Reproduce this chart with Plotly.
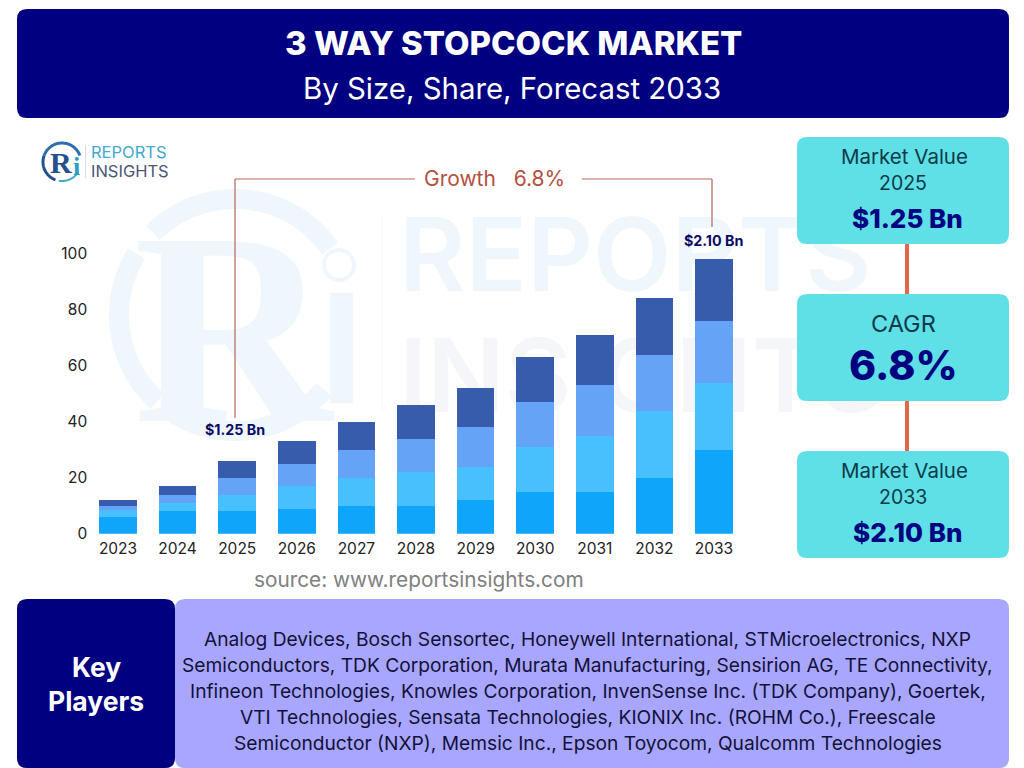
import math
import plotly.graph_objects as go

W, H = 1024, 768

years = ["2023", "2024", "2025", "2026", "2027", "2028", "2029", "2030", "2031", "2032", "2033"]
seg_1 = [6, 8, 8, 9, 10, 10, 12, 15, 15, 20, 30]
seg_2 = [2.5, 3, 6, 8, 10, 12, 12, 16, 20, 24, 24]
seg_3 = [1.5, 3, 6, 8, 10, 12, 14, 16, 18, 20, 22]
seg_4 = [2, 3, 6, 8, 10, 12, 14, 16, 18, 20, 22]
seg_colors = ["#0ea5fb", "#48c0fd", "#65a3f6", "#365cab"]

key_players = [
    "Analog Devices, Bosch Sensortec, Honeywell International, STMicroelectronics, NXP",
    "Semiconductors, TDK Corporation, Murata Manufacturing, Sensirion AG, TE Connectivity,",
    "Infineon Technologies, Knowles Corporation, InvenSense Inc. (TDK Company), Goertek,",
    "VTI Technologies, Sensata Technologies, KIONIX Inc. (ROHM Co.), Freescale",
    "Semiconductor (NXP), Memsic Inc., Epson Toyocom, Qualcomm Technologies",
]

FONT = "Inter"
NAVY = "#000080"
TEAL = "#5fe0e6"
LAVENDER = "#a9a6ff"
ORANGE = "#e0694a"
LINE = "#b8645a"
WM_BLUE = "#f0f7fc"
WM_GREY = "#f5f6f9"


def px(x):
    return x / W


def py(y):
    return 1 - y / H


def round_box(x0, y0, x1, y1, color, r=10):
    a, b, c, d = px(x0), py(y0), px(x1), py(y1)
    rx, ry = r / W, r / H
    path = (f"M {a + rx} {b} L {c - rx} {b} Q {c} {b} {c} {b - ry} L {c} {d + ry} Q {c} {d} {c - rx} {d} "
            f"L {a + rx} {d} Q {a} {d} {a} {d + ry} L {a} {b - ry} Q {a} {b} {a + rx} {b} Z")
    return dict(type="path", xref="paper", yref="paper", path=path, fillcolor=color, line_width=0, layer="below")


def arc(cx, cy, r, a0, a1, color, width):
    # angles in degrees, screen coordinates
    n = 40
    pts = []
    for i in range(n + 1):
        t = math.radians(a0 + (a1 - a0) * i / n)
        pts.append((px(cx + r * math.cos(t)), py(cy + r * math.sin(t))))
    path = "M " + " L ".join(f"{x} {y}" for x, y in pts)
    return dict(type="path", xref="paper", yref="paper", path=path, line=dict(color=color, width=width), layer="below")


def seg(x0, y0, x1, y1, color, width=1.2, layer="above"):
    return dict(type="line", xref="paper", yref="paper", x0=px(x0), y0=py(y0), x1=px(x1), y1=py(y1),
                line=dict(color=color, width=width), layer=layer)


def wm_label(x0, y0, x1, y1, text, color, size, family=FONT, weight="normal", pos="middle center"):
    # watermark text kept in the shape layer so the bars stay on top of it
    return dict(type="rect", xref="paper", yref="paper", x0=px(x0), y0=py(y0), x1=px(x1), y1=py(y1),
                line_width=0, fillcolor="rgba(0,0,0,0)", layer="below",
                label=dict(text=text, textposition=pos, padding=0,
                           font=dict(family=family, size=size, color=color, weight=weight)))


def text(x, y, s, size, color, weight="normal", family=FONT, anchor="center"):
    return dict(xref="paper", yref="paper", x=px(x), y=py(y), text=s, showarrow=False, xanchor=anchor,
                yanchor="middle", font=dict(family=family, size=size, color=color, weight=weight))


fig = go.Figure()
for values, color in zip([seg_1, seg_2, seg_3, seg_4], seg_colors):
    fig.add_trace(go.Bar(x=years, y=values, marker=dict(color=color, line_width=0), width=0.63, showlegend=False))

totals = [a + b + c + d for a, b, c, d in zip(seg_1, seg_2, seg_3, seg_4)]

shapes = [
    # watermark
    arc(235, 315, 116, 225, 325, WM_BLUE, 20),
    arc(235, 315, 116, 132, 212, WM_BLUE, 20),
    arc(235, 315, 116, 40, 122, WM_BLUE, 20),
    wm_label(120, 178, 345, 418, "R", WM_BLUE, 275, family="Liberation Serif", weight="bold"),
    dict(type="rect", xref="paper", yref="paper", x0=px(330), x1=px(353), y0=py(293), y1=py(403),
         fillcolor=WM_BLUE, line_width=0, layer="below"),
    dict(type="circle", xref="paper", yref="paper", x0=px(324), x1=px(354), y0=py(250), y1=py(280),
         fillcolor="rgba(0,0,0,0)", line=dict(color=WM_BLUE, width=4), layer="below"),
    seg(382, 215, 382, 410, "#f8f9fb", 2, "below"),
    wm_label(396, 191, 900, 311, "REPORTS", WM_BLUE, 102, weight=600, pos="middle left"),
    wm_label(396, 312, 900, 432, "INSIGHTS", WM_GREY, 102, weight=600, pos="middle left"),
    # panels
    round_box(17, 9, 1009, 118, NAVY),
    round_box(175, 599, 1009, 768, LAVENDER),
    round_box(17, 599, 175, 768, NAVY),
    seg(907, 244, 907, 294, ORANGE, 4, "below"),
    seg(907, 401, 907, 451, ORANGE, 4, "below"),
    round_box(797, 137, 1009, 244, TEAL),
    round_box(797, 294, 1009, 401, TEAL),
    round_box(797, 451, 1009, 558, TEAL),
    # growth bracket
    seg(235, 179, 235, 418, LINE),
    seg(235, 179, 415, 179, LINE),
    seg(582, 179, 712, 179, LINE),
    seg(712, 179, 712, 227, LINE),
    # small logo
    arc(62, 162, 19, 200, 340, "#2f6fb0", 3),
    arc(62, 162, 19, 110, 200, "#24508f", 3),
    arc(62, 162, 19, 30, 100, "#3fa9c9", 2),
    seg(85.5, 145, 85.5, 178, "#d5dde5", 1),
]

annotations = [
    text(513.5, 43, "3 WAY STOPCOCK MARKET", 33, "white", 800),
    text(512, 88, "By Size, Share, Forecast 2033", 29.4, "white"),
    text(494, 179, "Growth&nbsp;&nbsp;&nbsp;6.8%", 21, "#b5503f"),
    text(419, 579, "source: www.reportsinsights.com", 20.8, "#808080"),
    text(904, 156, "Market Value", 20.5, "#0c3a4a"),
    text(903, 183, "2025", 19.5, "#0c3a4a"),
    text(907.5, 218, "$1.25 Bn", 26, NAVY, 800),
    text(903.5, 323, "CAGR", 23.5, "#0c3a4a"),
    text(903.5, 365, "6.8%", 41, NAVY, 800),
    text(904, 470, "Market Value", 20.5, "#0c3a4a"),
    text(903, 497, "2033", 19.5, "#0c3a4a"),
    text(907.5, 532, "$2.10 Bn", 26, NAVY, 800),
    text(96, 667, "Key", 26.5, "white", "bold"),
    text(96, 701, "Players", 26.5, "white", "bold"),
    # small logo text
    text(61, 162, "R", 30, "#24508f", "bold", "Liberation Serif"),
    text(76, 167, "i", 26, "#2a9fc4", "bold", "Liberation Serif"),
    text(89, 152, "REPORTS", 16.5, "#42a9cf", anchor="left"),
    text(89, 171, "INSIGHTS", 16.5, "#4a5874", anchor="left"),
    # bar callouts, x is the category position
    dict(x=years.index("2025"), y=totals[2], xref="x", yref="y", yanchor="bottom", yshift=21, xshift=-2, showarrow=False,
         text="$1.25 Bn", font=dict(family=FONT, size=14.3, color="#0b0b66", weight="bold")),
    dict(x=years.index("2033"), y=totals[10], xref="x", yref="y", yanchor="bottom", yshift=8, showarrow=False,
         text="$2.10 Bn", font=dict(family=FONT, size=14.3, color="#0b0b66", weight="bold")),
]
for i, line in enumerate(key_players):
    annotations.append(text(587.5, 639 + i * 26, line, 19.2, "#12123a"))

fig.update_layout(
    width=W, height=H, margin=dict(l=0, r=0, t=0, b=0),
    paper_bgcolor="white", plot_bgcolor="rgba(0,0,0,0)",
    barmode="stack", shapes=shapes, annotations=annotations,
    font=dict(family=FONT, size=15.5, color="#222222"),
)
fig.update_xaxes(type="category", domain=[px(88.2), px(743.8)], range=[-0.5, 10.5], automargin=False,
                 ticklabelstandoff=4, showgrid=False, zeroline=False, showline=False, ticks="")
fig.update_yaxes(domain=[py(533.7), py(253.7)], range=[0, 100], tickvals=[0, 20, 40, 60, 80, 100], automargin=False,
                 showgrid=False, zeroline=False, showline=False, ticks="")

fig.write_html("out.html", config=dict(displayModeBar=False),
               post_script="document.body.style.margin='0';document.documentElement.style.overflow='hidden';")
